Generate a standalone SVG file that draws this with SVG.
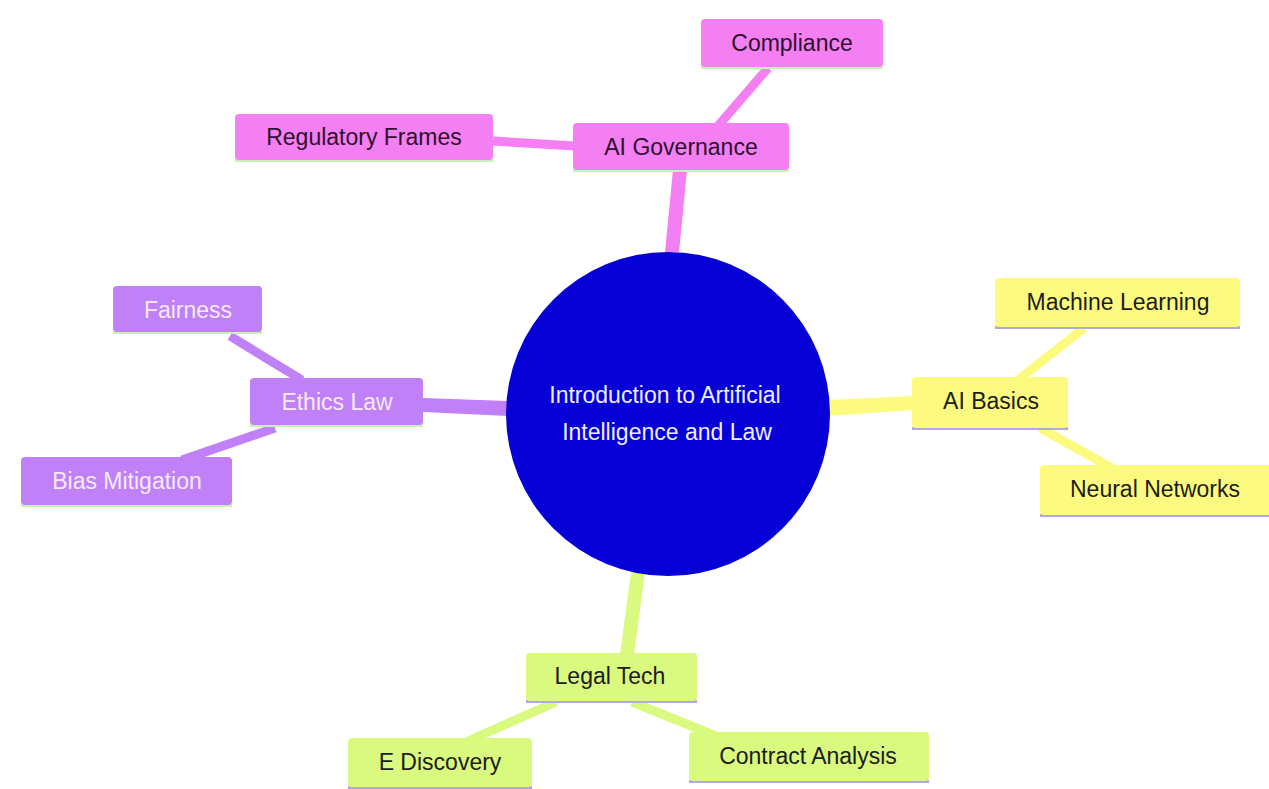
<svg xmlns="http://www.w3.org/2000/svg" width="1269" height="789" viewBox="0 0 1269 789">
<style>
text{font-family:"Liberation Sans",Arial,sans-serif;font-size:23px;text-anchor:middle;dominant-baseline:central}
.pk{fill:#f47ff2}.pu{fill:#c081f8}.ye{fill:#fcfb7f}.gr{fill:#d9f97f}
.bg{stroke:#c8f0b8;stroke-width:3}.bl{stroke:#b0a8e0;stroke-width:3}
.dk{fill:#1c1c1c}.dp{fill:#2e102e}.lt{fill:#f6eaf6}
.cp{stroke:#f47ff2}.cu{stroke:#c081f8}.cy{stroke:#fcfb7f}.cg{stroke:#d9f97f}
</style>
<rect width="1269" height="789" fill="#ffffff"/>
<g id="connectors" fill="none">
<polygon points="673,170 687,170 679,252 665,252" fill="#f47ff2"/>
<line x1="768" y1="68" x2="718" y2="126" class="cp" stroke-width="9"/>
<line x1="493" y1="141" x2="575" y2="146" class="cp" stroke-width="9"/>
<polygon points="423,398 423,412 508,416 508,401" fill="#c081f8"/>
<line x1="230" y1="336" x2="302" y2="380" class="cu" stroke-width="9"/>
<line x1="275" y1="428" x2="182" y2="460" class="cu" stroke-width="9"/>
<polygon points="828,400 828,416 914,410 914,396" fill="#fcfb7f"/>
<line x1="1084" y1="328" x2="1018" y2="380" class="cy" stroke-width="9"/>
<line x1="1040" y1="428" x2="1112" y2="468" class="cy" stroke-width="9"/>
<polygon points="631,572 645,572 634,655 620,655" fill="#d9f97f"/>
<line x1="556" y1="702" x2="468" y2="741" class="cg" stroke-width="9"/>
<line x1="632" y1="702" x2="716" y2="736" class="cg" stroke-width="9"/>
</g>
<g id="root">
<circle cx="668" cy="414" r="162" fill="#0600d6"/>
<text x="665" y="395" fill="#eeeeff">Introduction to Artificial</text>
<text x="667" y="432" fill="#eeeeff">Intelligence and Law</text>
</g>
<g id="ai-governance">
<line x1="573" y1="170.5" x2="789" y2="170.5" class="bg"/>
<rect x="573" y="123" width="216" height="47" rx="4" class="pk"/>
<text x="681" y="147" class="dp">AI Governance</text>
</g>
<g id="compliance">
<line x1="701" y1="67.5" x2="883" y2="67.5" class="bg"/>
<rect x="701" y="19" width="182" height="48" rx="4" class="pk"/>
<text x="792" y="43" class="dp">Compliance</text>
</g>
<g id="regulatory-frames">
<line x1="235" y1="160.5" x2="493" y2="160.5" class="bg"/>
<rect x="235" y="114" width="258" height="46" rx="4" class="pk"/>
<text x="364" y="137" class="dp">Regulatory Frames</text>
</g>
<g id="ethics-law">
<line x1="250" y1="425.5" x2="423" y2="425.5" class="bg"/>
<rect x="250" y="378" width="173" height="47" rx="4" class="pu"/>
<text x="337" y="402" class="lt">Ethics Law</text>
</g>
<g id="fairness">
<line x1="113" y1="332.5" x2="262" y2="332.5" class="bg"/>
<rect x="113" y="286" width="149" height="46" rx="4" class="pu"/>
<text x="188" y="310" class="lt">Fairness</text>
</g>
<g id="bias-mitigation">
<line x1="21" y1="505.5" x2="232" y2="505.5" class="bg"/>
<rect x="21" y="457" width="211" height="48" rx="4" class="pu"/>
<text x="127" y="481" class="lt">Bias Mitigation</text>
</g>
<g id="ai-basics">
<line x1="912" y1="428.5" x2="1068" y2="428.5" class="bl"/>
<rect x="912" y="377" width="156" height="51" rx="4" class="ye"/>
<text x="991" y="401" class="dk">AI Basics</text>
</g>
<g id="machine-learning">
<line x1="995" y1="327.5" x2="1240" y2="327.5" class="bl"/>
<rect x="995" y="278" width="245" height="49" rx="4" class="ye"/>
<text x="1118" y="302" class="dk">Machine Learning</text>
</g>
<g id="neural-networks">
<line x1="1040" y1="515.5" x2="1269" y2="515.5" class="bl"/>
<rect x="1040" y="465" width="232" height="50" rx="4" class="ye"/>
<text x="1155" y="489" class="dk">Neural Networks</text>
</g>
<g id="legal-tech">
<line x1="526" y1="701.5" x2="697" y2="701.5" class="bl"/>
<rect x="526" y="653" width="171" height="48" rx="4" class="gr"/>
<text x="610" y="676" class="dk">Legal Tech</text>
</g>
<g id="e-discovery">
<line x1="348" y1="787.5" x2="532" y2="787.5" class="bl"/>
<rect x="348" y="738" width="184" height="49" rx="4" class="gr"/>
<text x="440" y="762" class="dk">E Discovery</text>
</g>
<g id="contract-analysis">
<line x1="689" y1="781.5" x2="929" y2="781.5" class="bl"/>
<rect x="689" y="732" width="240" height="49" rx="4" class="gr"/>
<text x="808" y="756" class="dk">Contract Analysis</text>
</g>
</svg>
